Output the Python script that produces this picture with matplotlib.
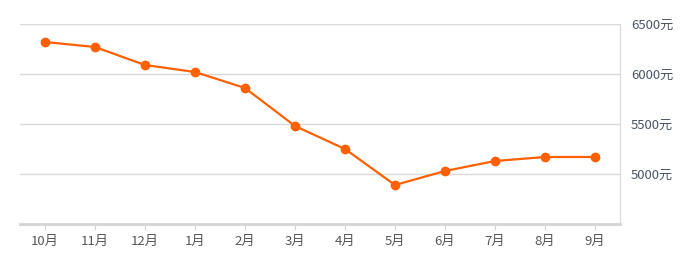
import matplotlib
matplotlib.use("Agg")
import matplotlib.pyplot as plt
from matplotlib.ticker import FuncFormatter

plt.rcParams['font.family'] = ['Noto Sans CJK SC', 'DejaVu Sans']

months = ["10月", "11月", "12月", "1月", "2月", "3月", "4月", "5月", "6月", "7月", "8月", "9月"]
prices = [6320, 6270, 6090, 6020, 5860, 5480, 5250, 4890, 5030, 5130, 5170, 5170]
yticks = [5000, 5500, 6000, 6500]

W, H = 693, 273
fig = plt.figure(figsize=(W / 100, H / 100), dpi=100)
ax = fig.add_axes([20 / W, (H - 224) / H, 600 / W, 200 / H])

x = list(range(len(months)))
ax.plot(x, prices, color="#ff6000", lw=1.6, marker="o", ms=6, zorder=3)

ax.set_xlim(-0.5, len(months) - 0.5)
ax.set_ylim(4500, 6500)
ax.set_xticks(x)
ax.set_xticklabels(months)
ax.set_yticks(yticks)
ax.yaxis.set_major_formatter(FuncFormatter(lambda v, p: f"{int(v)}元"))
ax.yaxis.tick_right()
ax.grid(axis="y", color="#d9d9d9", lw=1)
ax.set_axisbelow(True)

for s in ["top", "left"]:
    ax.spines[s].set_visible(False)
ax.spines["right"].set_color("#d9d9d9")
ax.spines["bottom"].set_color("#d4d4d4")
ax.spines["bottom"].set_linewidth(2)

ax.tick_params(axis="x", length=4, color="#d4d4d4", labelcolor="#555555", labelsize=9.5, pad=4)
ax.tick_params(axis="y", length=0, labelcolor="#4a5566", labelsize=9.5, pad=8)

fig.savefig("out.png", dpi=100)
